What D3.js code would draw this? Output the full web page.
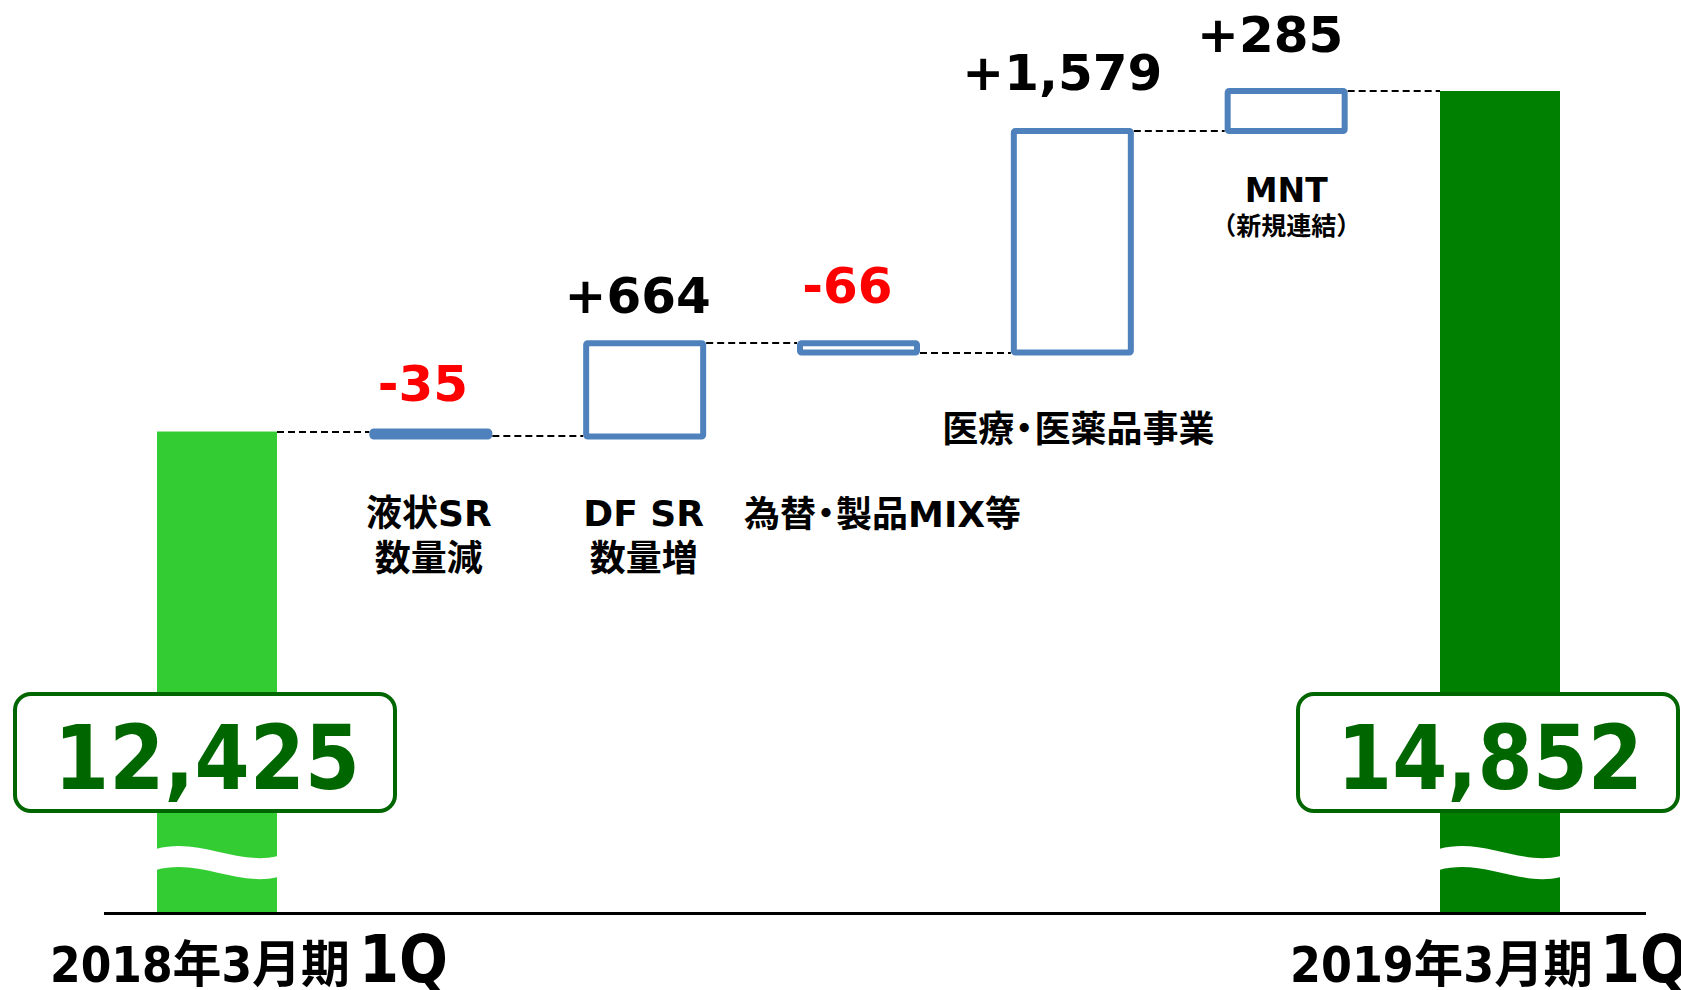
<!DOCTYPE html>
<html><head><meta charset="utf-8">
<script src="https://cdn.jsdelivr.net/npm/d3@7"></script>
<style>body{margin:0;background:#fff}svg{display:block}</style>
</head><body>
<svg id="c" width="1681" height="990"></svg>
<script>
// ---------------- data ----------------
const categories = ["2018年3月期1Q","液状SR数量減","DF SR数量増","為替・製品MIX等","医療・医薬品事業","MNT（新規連結）","2019年3月期1Q"];
const totalNames = [["2018年3月期","1Q"],["2019年3月期","1Q"]];
const totals = [12425, 14852];
const deltas = [-35, 664, -66, 1579, 285];
const deltaNames = [["液状SR","数量減"],["DF SR","数量増"],["為替・製品MIX等"],["医療・医薬品事業"],["MNT","（新規連結）"]];
const axisFloor = 8990; // broken axis: bottom of the visible scale

// ---------------- layout ----------------
const FONT = "'DejaVu Sans','Noto Sans CJK JP',sans-serif";
const FONT_C = "'DejaVu Sans Condensed','DejaVu Sans','Noto Sans CJK JP',sans-serif";
const colTotal = ["#33CC33", "#008000"];
const colDark = "#006600";
const colBox = "#4F81BD";
const valueDy = [-28, -27, -37, -38, -36];
const valueDx = [-8, -7, -11, -10, -16];
const nameDy = [87, 87, 171, 86, 68];
const nameDx = [-2, -1, 24, 6, 0];
const nameFont = [[36,36],[36,36],[36],[36],[33,25]];
const nameGap = [45, 45, 0, 0, 33];

const svg = d3.select("#c");
const x = d3.scalePoint().domain(categories).range([217, 1500]);
const y = d3.scaleLinear().domain([axisFloor, totals[1]]).range([913.5, 91]);
const fmtDelta = v => d3.format("+,")(v).replace("\u2212", "-");
const fmtTotal = d3.format(",");

function fit(sel, maxW) {
  const n = sel.node();
  if (n.getComputedTextLength() > maxW + 1)
    sel.attr("textLength", maxW).attr("lengthAdjust", "spacingAndGlyphs");
  return sel;
}

// waterfall steps
let run = totals[0];
const steps = deltas.map((d, i) => {
  const s = run; run += d;
  return { cat: categories[i + 1], start: s, end: run, delta: d, i };
});

const barW = 120, boxW = 117, boxSW = 6;

// total bars
const totalData = [
  { cat: categories[0], v: totals[0], c: colTotal[0], names: totalNames[0] },
  { cat: categories[6], v: totals[1], c: colTotal[1], names: totalNames[1] }
];
svg.selectAll("rect.total").data(totalData).join("rect")
  .attr("x", d => x(d.cat) - barW / 2).attr("width", barW)
  .attr("y", d => y(d.v)).attr("height", d => y(axisFloor) - y(d.v))
  .attr("fill", d => d.c);

// wavy break
svg.selectAll("path.wave").data(totalData).join("path")
  .attr("d", d => {
    const x0 = x(d.cat) - barW / 2 - 1, x1 = x(d.cat) + barW / 2 + 1;
    return `M${x0},849 C${x0 + 44},837 ${x0 + 80},866 ${x1},856 L${x1},877 C${x0 + 80},887 ${x0 + 44},858 ${x0},870 Z`;
  })
  .attr("fill", "#fff");

// connectors
const conns = [];
conns.push({ x1: x(categories[0]) + barW / 2, x2: x(steps[0].cat) - boxW / 2 - boxSW / 2, v: totals[0] });
steps.forEach((s, i) => {
  const xr = x(s.cat) + boxW / 2 + boxSW / 2;
  const xn = i < steps.length - 1 ? x(steps[i + 1].cat) - boxW / 2 - boxSW / 2 : x(categories[6]) - barW / 2;
  conns.push({ x1: xr, x2: xn, v: s.end });
});
svg.selectAll("line.conn").data(conns).join("line")
  .attr("x1", d => d.x1).attr("x2", d => d.x2)
  .attr("y1", d => Math.round(y(d.v))).attr("y2", d => Math.round(y(d.v)))
  .attr("stroke", "#000").attr("stroke-width", 2).attr("stroke-dasharray", "7,4");

// delta boxes
svg.selectAll("rect.delta").data(steps).join("rect")
  .attr("x", d => x(d.cat) - boxW / 2).attr("width", boxW)
  .attr("y", d => y(Math.max(d.start, d.end)))
  .attr("height", d => Math.abs(y(d.start) - y(d.end)))
  .attr("fill", "#fff").attr("stroke", colBox).attr("stroke-width", boxSW)
  .attr("rx", 1.5).attr("stroke-linejoin", "round");

// value labels
svg.selectAll("text.val").data(steps).join("text")
  .attr("x", d => x(d.cat) + valueDx[d.i])
  .attr("y", d => y(Math.max(d.start, d.end)) - boxSW / 2 + valueDy[d.i])
  .attr("text-anchor", "middle").attr("font-family", FONT).attr("font-weight", "bold")
  .attr("font-size", 50).attr("fill", d => d.delta < 0 ? "#FF0000" : "#000")
  .text(d => fmtDelta(d.delta));

// category labels
steps.forEach(s => {
  const bottom = y(Math.min(s.start, s.end)) + boxSW / 2;
  const t = svg.append("text").attr("text-anchor", "middle")
    .attr("font-family", FONT).attr("font-weight", "bold").attr("fill", "#000");
  deltaNames[s.i].forEach((line, k) => {
    const fs = nameFont[s.i][k];
    const ln = t.append("tspan").attr("x", x(s.cat) + nameDx[s.i])
      .attr("y", bottom + nameDy[s.i] + k * nameGap[s.i])
      .attr("font-size", fs);
    const parts = line.split("・");
    parts.forEach((p, j) => {
      if (j > 0) ln.append("tspan").attr("dx", -fs * 0.22).text("・");
      ln.append("tspan").attr("dx", j > 0 ? -fs * 0.22 : 0).text(p);
    });
  });
});

// axis baseline
svg.append("line").attr("x1", 104).attr("x2", 1646)
  .attr("y1", y(axisFloor)).attr("y2", y(axisFloor))
  .attr("stroke", "#000").attr("stroke-width", 3);

// total value boxes
const boxWide = 380, boxH = 117;
totalData.forEach(d => {
  const cx = x(d.cat) - 12;
  svg.append("rect").attr("x", cx - boxWide / 2).attr("y", 694)
    .attr("width", boxWide).attr("height", boxH).attr("rx", 16)
    .attr("fill", "#fff").attr("stroke", colDark).attr("stroke-width", 4);
  const t = svg.append("text").attr("x", cx + 2).attr("y", 789).attr("text-anchor", "middle")
    .attr("font-family", FONT_C).attr("font-weight", "bold").attr("font-size", 89)
    .attr("fill", colDark).text(fmtTotal(d.v));
  fit(t, 306);
});

// period labels
totalData.forEach((d, i) => {
  const x0 = x(d.cat) + (i === 0 ? -167 : -210);
  const a = svg.append("text").attr("x", x0).attr("y", 982)
    .attr("font-family", FONT_C).attr("font-weight", "bold").attr("font-size", 50)
    .attr("fill", "#000").text(d.names[0]);
  fit(a, i === 0 ? 300 : 303);
  const b = svg.append("text").attr("x", x0 + (i === 0 ? 309 : 310)).attr("y", 982)
    .attr("font-family", FONT_C).attr("font-weight", "bold").attr("font-size", 66)
    .attr("fill", "#000").text(d.names[1]);
  fit(b, 89);
});
</script>
</body></html>
